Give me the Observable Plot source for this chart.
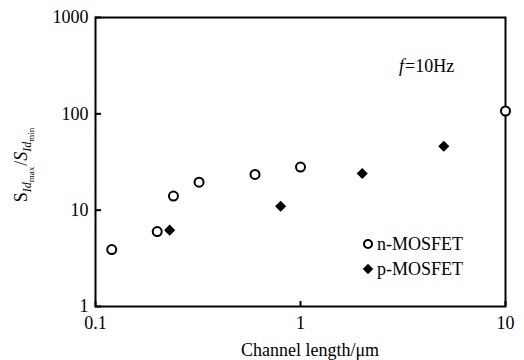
<!DOCTYPE html>
<html>
<head>
<meta charset="utf-8">
<script src="https://cdn.jsdelivr.net/npm/d3@7"></script>
<script src="https://cdn.jsdelivr.net/npm/@observablehq/plot@0.6"></script>
<style>
  html, body { margin: 0; padding: 0; background: #fff; }
  svg { font-family: "Liberation Serif", "Times New Roman", serif; }
</style>
</head>
<body>
<div id="chart"></div>
<script>
// Data
const nLength = [0.12, 0.2, 0.24, 0.32, 0.6, 1.0, 10];
const nRatio  = [3.9, 6.0, 14, 19.5, 23.5, 28, 107];
const pLength = [0.23, 0.8, 2.0, 5.0];
const pRatio  = [6.2, 11, 24, 46];
const xTicks = [0.1, 1, 10];
const xTickLabels = ["0.1", "1", "10"];
const yTicks = [1, 10, 100, 1000];
const yTickLabels = ["1", "10", "100", "1000"];
const seriesNames = ["n-MOSFET", "p-MOSFET"];

const nData = nLength.map((x, i) => ({x, y: nRatio[i]}));
const pData = pLength.map((x, i) => ({x, y: pRatio[i]}));

const chart = Plot.plot({
  width: 524,
  height: 360,
  marginLeft: 95,
  marginRight: 19,
  marginTop: 17,
  marginBottom: 54,
  style: {fontFamily: "Liberation Serif, serif", fontSize: "18px", color: "#000", background: "#fff"},
  x: {type: "log", domain: [0.1, 10]},
  y: {type: "log", domain: [1, 1000]},
  marks: [
    Plot.axisX({ticks: xTicks, tickFormat: (d) => xTickLabels[xTicks.indexOf(d)], tickSize: -5, tickPadding: 15, strokeWidth: 2, label: null, fontSize: 18}),
    Plot.axisY({ticks: yTicks, tickFormat: (d) => yTickLabels[yTicks.indexOf(d)], tickSize: -6, tickPadding: 13, strokeWidth: 2, label: null, fontSize: 18}),
    Plot.frame({stroke: "#000", strokeWidth: 2}),
    Plot.dot(nData, {x: "x", y: "y", r: 4.5, stroke: "#000", strokeWidth: 2, fill: "#fff", clip: false}),
    Plot.dot(pData, {x: "x", y: "y", r: 5, symbol: "diamond2", fill: "#000", stroke: "none"})
  ]
});
document.getElementById("chart").appendChild(chart);

const svg = d3.select(chart);
// annotation f=10Hz
const ann = svg.append("text")
  .attr("x", 399).attr("y", 72)
  .attr("text-anchor", "start")
  .attr("font-size", 18).attr("fill", "#000");
ann.append("tspan").attr("font-style", "italic").text("f");
ann.append("tspan").attr("dx", 1).text("=10Hz");

// x label
svg.append("text")
  .attr("x", 310).attr("y", 356)
  .attr("text-anchor", "middle")
  .attr("font-size", 18).attr("fill", "#000")
  .text("Channel length/\u03bcm");

// y label
const yl = svg.append("text")
  .attr("transform", "translate(27,165) rotate(-90)")
  .attr("text-anchor", "middle")
  .attr("font-size", 18).attr("fill", "#000");
yl.append("tspan").text("S");
yl.append("tspan").attr("font-size", 12).attr("font-style", "italic").attr("dy", 4).text("Id");
yl.append("tspan").attr("font-size", 9).attr("dy", 3).text("max");
yl.append("tspan").attr("dy", -7).attr("dx", 1).text("/");
yl.append("tspan").attr("font-style", "italic").text("S");
yl.append("tspan").attr("font-size", 12).attr("font-style", "italic").attr("dy", 4).text("Id");
yl.append("tspan").attr("font-size", 9).attr("dy", 3).text("min");

// legend
const leg = svg.append("g").attr("text-anchor", "start");
leg.append("circle").attr("cx", 368).attr("cy", 244).attr("r", 4).attr("fill", "#fff").attr("stroke", "#000").attr("stroke-width", 2);
leg.append("path").attr("d", d3.symbol(d3.symbolDiamond2, 70)()).attr("transform", "translate(368,269)").attr("fill", "#000");
leg.append("text").attr("x", 377).attr("y", 250).attr("font-size", 18).attr("fill", "#000").text(seriesNames[0]);
leg.append("text").attr("x", 377).attr("y", 275).attr("font-size", 18).attr("fill", "#000").text(seriesNames[1]);
</script>
</body>
</html>
